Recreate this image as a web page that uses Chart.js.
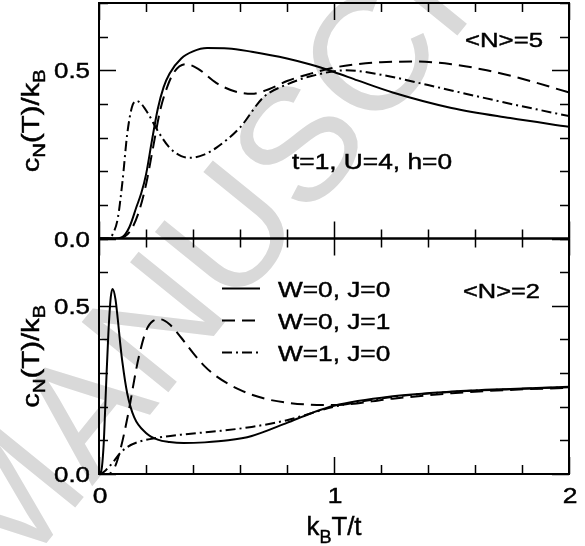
<!DOCTYPE html>
<html>
<head>
<meta charset="utf-8">
<script src="https://cdn.jsdelivr.net/npm/chart.js@4.4.0/dist/chart.umd.min.js"></script>
<style>
  html, body { margin: 0; padding: 0; background: #ffffff; }
  #wrap { width: 585px; height: 546px; }
</style>
</head>
<body>
<div id="wrap"><canvas id="chart" width="585" height="546"></canvas></div>
<script>
// ---------------------------------------------------------------------------
// Data: specific heat c_N(T)/k_B vs k_B T / t
// ---------------------------------------------------------------------------

const seriesLabels = ['W=0, J=0', 'W=0, J=1', 'W=1, J=0'];

// upper panel, <N>=5
const n5SolidT = [0, 0.06, 0.1, 0.13, 0.16, 0.18, 0.2, 0.225, 0.25, 0.275, 0.3, 0.35, 0.4, 0.46, 0.55, 0.65, 0.8, 0.9, 1.0, 1.1, 1.25, 1.5, 1.75, 2.0];
const n5SolidC = [0, 0, 0.005, 0.035, 0.095, 0.135, 0.19, 0.29, 0.385, 0.45, 0.49, 0.535, 0.556, 0.566, 0.565, 0.555, 0.535, 0.517, 0.495, 0.47, 0.434, 0.388, 0.358, 0.332];

const n5DashT = [0, 0.07, 0.11, 0.14, 0.17, 0.2, 0.23, 0.26, 0.29, 0.32, 0.37, 0.42, 0.5, 0.58, 0.65, 0.72, 0.8, 0.9, 1.0, 1.1, 1.2, 1.35, 1.5, 1.65, 1.8, 2.0];
const n5DashC = [0, 0, 0.006, 0.03, 0.08, 0.16, 0.27, 0.38, 0.45, 0.495, 0.518, 0.505, 0.462, 0.437, 0.43, 0.443, 0.468, 0.49, 0.508, 0.518, 0.524, 0.526, 0.518, 0.5, 0.475, 0.434];

const n5DotT = [0, 0.04, 0.06, 0.08, 0.1, 0.12, 0.14, 0.16, 0.18, 0.21, 0.25, 0.3, 0.35, 0.39, 0.45, 0.5, 0.6, 0.7, 0.8, 0.9, 1.05, 1.2, 1.4, 1.6, 1.8, 2.0];
const n5DotC = [0, 0, 0.015, 0.06, 0.17, 0.31, 0.39, 0.409, 0.4, 0.37, 0.32, 0.27, 0.245, 0.24, 0.25, 0.27, 0.33, 0.42, 0.458, 0.482, 0.5, 0.487, 0.456, 0.424, 0.393, 0.364];

// lower panel, <N>=2
const n2SolidT = [0, 0.01, 0.02, 0.03, 0.04, 0.05, 0.058, 0.07, 0.08, 0.09, 0.1, 0.12, 0.15, 0.2, 0.25, 0.3, 0.36, 0.45, 0.55, 0.65, 0.8, 0.9, 1.0, 1.25, 1.5, 1.75, 2.0];
const n2SolidC = [0, 0.01, 0.09, 0.26, 0.42, 0.525, 0.55, 0.52, 0.46, 0.39, 0.33, 0.24, 0.168, 0.122, 0.102, 0.095, 0.092, 0.094, 0.1, 0.113, 0.152, 0.18, 0.203, 0.231, 0.245, 0.253, 0.259];

const n2DashT = [0, 0.04, 0.07, 0.09, 0.11, 0.13, 0.15, 0.17, 0.2, 0.23, 0.26, 0.3, 0.35, 0.4, 0.45, 0.5, 0.6, 0.7, 0.8, 0.9, 1.0, 1.25, 1.5, 1.75, 2.0];
const n2DashC = [0, 0, 0.025, 0.07, 0.13, 0.2, 0.28, 0.35, 0.425, 0.455, 0.46, 0.445, 0.405, 0.36, 0.32, 0.29, 0.25, 0.225, 0.212, 0.206, 0.205, 0.224, 0.24, 0.25, 0.256];

const n2DotT = [0, 0.01, 0.03, 0.06, 0.09, 0.12, 0.17, 0.25, 0.35, 0.5, 0.65, 0.8, 0.9, 1.0, 1.25, 1.5, 1.75, 2.0];
const n2DotC = [0, 0.002, 0.012, 0.035, 0.062, 0.08, 0.096, 0.108, 0.117, 0.127, 0.14, 0.16, 0.18, 0.2, 0.229, 0.244, 0.252, 0.258];

// axes
const xMajorTicks = [0, 1, 2];
const xTickLabels = ['0', '1', '2'];
const yMajorTicks = [0, 0.5];
const yTickLabels = ['0.0', '0.5'];

// ---------------------------------------------------------------------------
// Helpers
// ---------------------------------------------------------------------------

const FONT = '"Liberation Sans", Arial, Helvetica, sans-serif';
const TEXT_STRETCH = 1.2;   // the figure's lettering is wide

const DASHES = [[], [13, 7], [10, 4, 2, 4]];

function toPoints(xs, ys) {
    return xs.map((x, i) => ({ x: x, y: ys[i] }));
}

function isMajor(v, list) {
    return list.some(m => Math.abs(m - v) < 1e-6);
}

// parts: [[text, isSubscript], ...]; drawn with its baseline at (0,0)
function richWidth(ctx, parts, size) {
    let w = 0;
    parts.forEach(([s, sub]) => {
        ctx.font = `${sub ? size * 0.7 : size}px ${FONT}`;
        w += ctx.measureText(s).width;
    });
    return w;
}

function drawRich(ctx, parts, size, opts) {
    const natural = richWidth(ctx, parts, size);
    const sx = opts.width ? opts.width / natural : (opts.stretch || 1);
    let x = 0;
    if (opts.align === 'center') x = -natural / 2;
    if (opts.align === 'right') x = -natural;
    ctx.save();
    ctx.scale(sx, 1);
    ctx.fillStyle = '#000';
    ctx.strokeStyle = '#000';
    ctx.lineWidth = 0.45;
    ctx.setLineDash([]);
    ctx.textBaseline = 'alphabetic';
    ctx.textAlign = 'left';
    parts.forEach(([s, sub]) => {
        ctx.font = `${sub ? size * 0.7 : size}px ${FONT}`;
        const y = sub ? size * 0.3 : 0;
        ctx.fillText(s, x, y);
        ctx.strokeText(s, x, y);
        x += ctx.measureText(s).width;
    });
    ctx.restore();
}

function textAt(ctx, parts, x, y, size, opts) {
    ctx.save();
    ctx.translate(x, y);
    drawRich(ctx, parts, size, opts);
    ctx.restore();
}

// ---------------------------------------------------------------------------
// Plugin: frames, inward ticks, labels, legend and notes
// ---------------------------------------------------------------------------

const figurePlugin = {
    id: 'figure',
    beforeDraw(chart) {
        const ctx = chart.ctx;
        ctx.save();
        ctx.fillStyle = '#ffffff';
        ctx.fillRect(0, 0, chart.width, chart.height);

        // journal watermark
        ctx.translate(14, 512);
        ctx.rotate(-51 * Math.PI / 180);
        ctx.font = `162px ${FONT}`;
        ctx.fillStyle = '#d9d9d9';
        ctx.textBaseline = 'middle';
        ctx.fillText('MANUSCRIPT', -66, 0);
        ctx.restore();
    },
    afterDatasetsDraw(chart) {
        const ctx = chart.ctx;
        const xs = chart.scales.x;
        const left = xs.left;
        const right = xs.right;

        ctx.save();
        ctx.strokeStyle = '#000';
        ctx.setLineDash([]);

        ['yTop', 'yBot'].forEach(id => {
            const ys = chart.scales[id];
            const top = ys.top;
            const bottom = ys.bottom;

            ctx.lineWidth = 1.5;
            ctx.beginPath();
            xs.ticks.forEach(t => {
                const px = Math.round(xs.getPixelForValue(t.value)) + 0.5;
                const len = isMajor(t.value, xMajorTicks) ? 17 : 9;
                ctx.moveTo(px, bottom);
                ctx.lineTo(px, bottom - len);
                ctx.moveTo(px, top);
                ctx.lineTo(px, top + len);
            });
            ys.ticks.forEach(t => {
                const py = Math.round(ys.getPixelForValue(t.value)) + 0.5;
                const len = isMajor(t.value, yMajorTicks) ? 17 : 9;
                ctx.moveTo(left, py);
                ctx.lineTo(left + len, py);
                ctx.moveTo(right, py);
                ctx.lineTo(right - len, py);
            });
            ctx.stroke();

            ctx.lineWidth = 2;
            ctx.strokeRect(left, top, right - left, bottom - top);

            // y tick labels
            yMajorTicks.forEach((v, i) => {
                const py = ys.getPixelForValue(v);
                textAt(ctx, [[yTickLabels[i], false]], 90, py + 8, 22,
                    { width: 36, align: 'right' });
            });

            // y title, rotated
            ctx.save();
            ctx.translate(38.5, (top + bottom) / 2);
            ctx.rotate(-Math.PI / 2);
            drawRich(ctx, [['c', false], ['N', true], ['(T)/k', false], ['B', true]], 23,
                { width: 103, align: 'center' });
            ctx.restore();
        });

        // x tick labels and title
        xMajorTicks.forEach((v, i) => {
            textAt(ctx, [[xTickLabels[i], false]], xs.getPixelForValue(v) + 1, 503, 22,
                { stretch: TEXT_STRETCH, align: 'center' });
        });
        textAt(ctx, [['k', false], ['B', true], ['T/t', false]], 334, 535, 26,
            { width: 55, align: 'center' });

        // notes
        textAt(ctx, [['<N>=5', false]], 465, 47, 20, { width: 78 });
        textAt(ctx, [['t=1, U=4, h=0', false]], 292, 169, 21.5, { width: 160 });
        textAt(ctx, [['<N>=2', false]], 463, 298, 20, { width: 77 });

        // legend (lower panel)
        const legendY = [288, 320, 352];
        chart.data.datasets.filter(d => d.yAxisID === 'yBot').forEach((d, i) => {
            ctx.save();
            ctx.lineWidth = d.borderWidth;
            ctx.setLineDash(d.borderDash);
            ctx.beginPath();
            ctx.moveTo(222, legendY[i] + 0.5);
            ctx.lineTo(260, legendY[i] + 0.5);
            ctx.stroke();
            ctx.restore();
            textAt(ctx, [[d.label, false]], 278, legendY[i] + 8.5, 21.5,
                { stretch: 1.22 });
        });

        ctx.restore();
    }
};

// ---------------------------------------------------------------------------
// Chart
// ---------------------------------------------------------------------------

function curve(label, xs, ys, axis, style) {
    return {
        label: label,
        data: toPoints(xs, ys),
        yAxisID: axis,
        borderColor: '#000000',
        borderWidth: 2,
        borderDash: DASHES[style],
        pointRadius: 0,
        fill: false,
        cubicInterpolationMode: 'monotone'
    };
}

const panelAxis = (weight) => ({
    type: 'linear',
    position: 'left',
    stack: 'panels',
    stackWeight: 1,
    weight: weight,
    min: 0,
    max: 0.7,
    ticks: { stepSize: 0.1, display: false },
    grid: { display: false },
    border: { display: false },
    afterFit(scale) { scale.width = 99; }
});

new Chart(document.getElementById('chart'), {
    type: 'line',
    data: {
        datasets: [
            curve(seriesLabels[0], n5SolidT, n5SolidC, 'yTop', 0),
            curve(seriesLabels[1], n5DashT, n5DashC, 'yTop', 1),
            curve(seriesLabels[2], n5DotT, n5DotC, 'yTop', 2),
            curve(seriesLabels[0], n2SolidT, n2SolidC, 'yBot', 0),
            curve(seriesLabels[1], n2DashT, n2DashC, 'yBot', 1),
            curve(seriesLabels[2], n2DotT, n2DotC, 'yBot', 2)
        ]
    },
    options: {
        responsive: false,
        devicePixelRatio: 1,
        animation: false,
        events: [],
        layout: { padding: { left: 0, right: 16, top: 3, bottom: 0 } },
        plugins: {
            legend: { display: false },
            tooltip: { enabled: false },
            title: { display: false }
        },
        scales: {
            x: {
                type: 'linear',
                min: 0,
                max: 2,
                ticks: { stepSize: 0.2, display: false },
                grid: { display: false },
                border: { display: false },
                afterFit(scale) { scale.height = 72; }
            },
            yBot: panelAxis(0),
            yTop: panelAxis(1)
        }
    },
    plugins: [figurePlugin]
});
</script>
</body>
</html>
